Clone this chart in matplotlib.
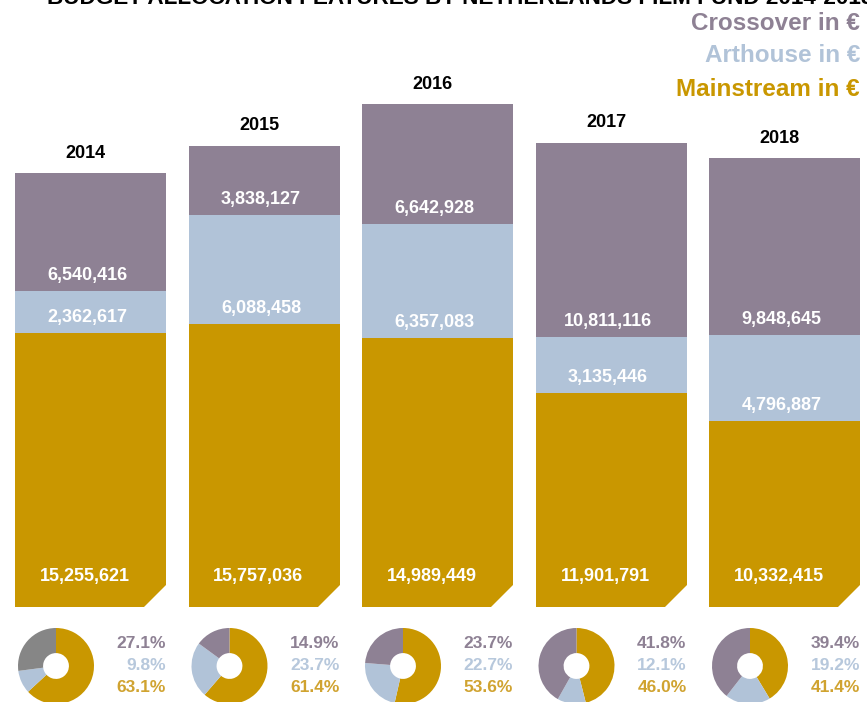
import matplotlib
matplotlib.use("Agg")
import matplotlib.pyplot as plt
from matplotlib.patches import Polygon

years = ["2014", "2015", "2016", "2017", "2018"]
mainstream = [15255621, 15757036, 14989449, 11901791, 10332415]
arthouse = [2362617, 6088458, 6357083, 3135446, 4796887]
crossover = [6540416, 3838127, 6642928, 10811116, 9848645]
series_names = ["Crossover in €", "Arthouse in €", "Mainstream in €"]

C_CROSS = "#8e8194"
C_ART = "#b1c3d8"
C_MAIN = "#c99700"
C_CROSS_T = "#8e8194"
C_ART_T = "#b7c8dc"
C_MAIN_T = "#d0a330"
pie_cross_colors = ["#868686", C_CROSS, C_CROSS, C_CROSS, C_CROSS]

W, H = 867, 702
fig = plt.figure(figsize=(W / 100, H / 100), dpi=100)
ax = fig.add_axes([0, 0, 1, 1])
ax.axis("off")

# pixel mapping: bar base at y=607 px from top, 17.96 px per million
PX_PER_M = 17.96
BASE = 607
ax.set_ylim((BASE - H) / PX_PER_M * 1e6, BASE / PX_PER_M * 1e6)
SPACING = 173.5
C0 = 90.5
ax.set_xlim(-C0 / SPACING, (W - C0) / SPACING)
bw = 151 / SPACING

NUM_FONT = "Liberation Sans"
NAR_FONT = "Liberation Sans"
px = lambda p: p / PX_PER_M * 1e6  # pixel distance in y -> data
pxx = lambda p: p / SPACING         # pixel distance in x -> data

x = list(range(len(years)))
ax.bar(x, mainstream, width=bw, color=C_MAIN, linewidth=0)
ax.bar(x, arthouse, width=bw, bottom=mainstream, color=C_ART, linewidth=0)
bot2 = [m + a for m, a in zip(mainstream, arthouse)]
ax.bar(x, crossover, width=bw, bottom=bot2, color=C_CROSS, linewidth=0)

for i in x:
    right = i + bw / 2
    # cut corner at bottom right
    tri = Polygon([(right - pxx(22), 0), (right + pxx(1), 0), (right + pxx(1), px(23))],
                  closed=True, facecolor="white", edgecolor="none", zorder=3)
    ax.add_patch(tri)
    top = bot2[i] + crossover[i]
    ax.text(i - pxx(5), top + px(20), years[i], ha="center", va="center",
            fontsize=13, fontweight="bold", family=NUM_FONT, color="black")
    ax.text(i - pxx(3), bot2[i] + px(15.5), f"{crossover[i]:,}", ha="center", va="center",
            fontsize=13, fontweight="bold", family=NUM_FONT, color="white")
    ax.text(i - pxx(3), mainstream[i] + px(15.5), f"{arthouse[i]:,}", ha="center", va="center",
            fontsize=13, fontweight="bold", family=NUM_FONT, color="white")
    ax.text(i - pxx(6), px(31), f"{mainstream[i]:,}", ha="center", va="center",
            fontsize=13, fontweight="bold", family=NUM_FONT, color="white", zorder=4)

    # pie
    cx = C0 + SPACING * i - 75.5 + 41
    cy = 666
    R = 38
    pax = fig.add_axes([(cx - R) / W, (H - cy - R) / H, 2 * R / W, 2 * R / H])
    pax.pie([mainstream[i], arthouse[i], crossover[i]],
            colors=[C_MAIN, C_ART, pie_cross_colors[i]], startangle=90,
            counterclock=False, radius=1.0,
            wedgeprops=dict(width=0.66, linewidth=0))
    pax.set_xlim(-1, 1)
    pax.set_ylim(-1, 1)
    pax.set_aspect("equal")
    pax.axis("off")

    total = mainstream[i] + arthouse[i] + crossover[i]
    xr = (C0 + SPACING * i + 75.5) / W
    for val, col, ypx in [(crossover[i], C_CROSS_T, 644), (arthouse[i], C_ART_T, 665),
                          (mainstream[i], C_MAIN_T, 687)]:
        fig.text(xr, 1 - ypx / H, f"{val / total * 100:.1f}%", ha="right", va="center",
                 fontsize=12.5, fontweight="bold", family=NAR_FONT, color=col)

# legend texts
for name, col, ypx in zip(series_names, [C_CROSS, C_ART, C_MAIN], [23, 56, 89]):
    fig.text(860 / W, 1 - ypx / H, name, ha="right", va="center", fontsize=17.5,
             fontweight="bold", family=NAR_FONT, color=col)

# title (cut off at top, as in the reference)
fig.text(47 / W, 1 - 4 / H, "BUDGET ALLOCATION FEATURES BY NETHERLANDS FILM FUND 2014-2018",
         ha="left", va="baseline", fontsize=16.2, fontweight="bold", family=NAR_FONT, color="black")

fig.savefig("out.png", dpi=100, facecolor="white")
